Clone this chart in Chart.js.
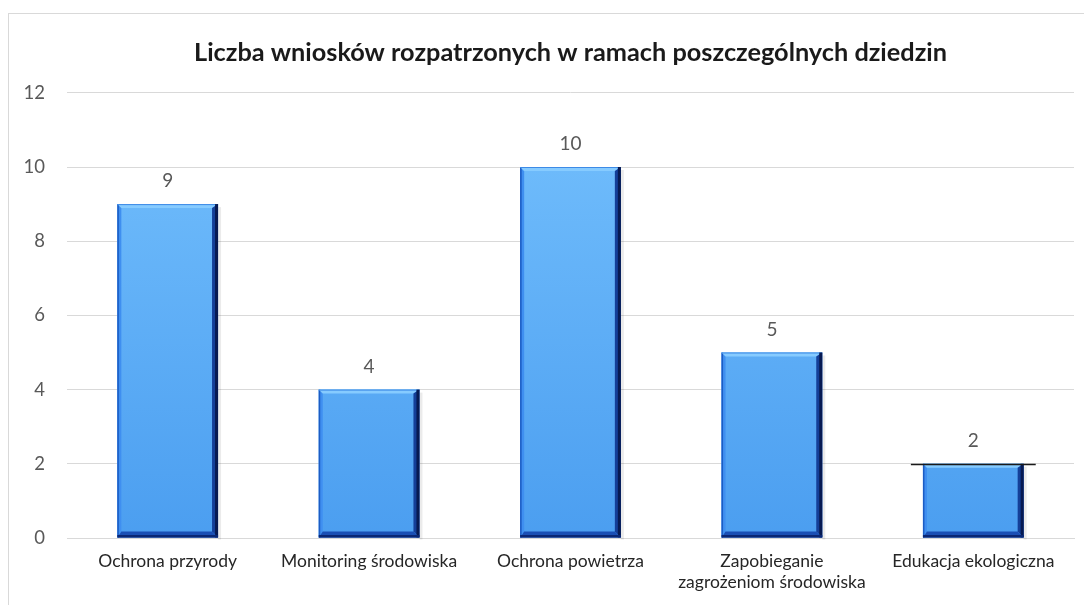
<!DOCTYPE html>
<html>
<head>
<meta charset="utf-8">
<script src="https://cdn.jsdelivr.net/npm/chart.js@4/dist/chart.umd.min.js"></script>
<style>
  html, body { margin: 0; padding: 0; background: #ffffff; }
  #wrap { position: relative; width: 1084px; height: 605px; overflow: hidden; }
  #frame { position: absolute; left: 8px; top: 13px; width: 1200px; height: 700px; border: 1px solid #d9d9d9; box-sizing: border-box; }
  #c { position: absolute; left: 0; top: 0; }
</style>
</head>
<body>
<div id="wrap">
  <div id="frame"></div>
  <canvas id="c" width="1084" height="605"></canvas>
</div>
<script>
const titleText = "Liczba wniosków rozpatrzonych w ramach poszczególnych dziedzin";
const categories = [
  "Ochrona przyrody",
  "Monitoring środowiska",
  "Ochrona powietrza",
  ["Zapobieganie", "zagrożeniom środowiska"],
  "Edukacja ekologiczna"
];
const values = [9, 4, 10, 5, 2];
const yTicks = [0, 2, 4, 6, 8, 10, 12];
const markerLine = { index: 4, value: 2 };

const FONT = "Lato, 'Open Sans', sans-serif";

const bevelPlugin = {
  id: 'bevel',
  afterDatasetsDraw(chart) {
    const ctx = chart.ctx;
    const meta = chart.getDatasetMeta(0);
    ctx.save();
    meta.data.forEach((bar, i) => {
      const left = bar.x - bar.width / 2;
      const right = bar.x + bar.width / 2;
      const top = bar.y;
      const bottom = bar.base;
      const b = 6;
      // soft shadow on right and bottom
      ctx.fillStyle = 'rgba(0,0,0,0.08)';
      ctx.fillRect(right, top + 3, 3, bottom - top - 1);
      // left bevel
      ctx.beginPath();
      ctx.moveTo(left, top);
      ctx.lineTo(left + 4, top + 4);
      ctx.lineTo(left + 4, bottom - b);
      ctx.lineTo(left, bottom);
      ctx.closePath();
      ctx.fillStyle = '#3f8ff0';
      ctx.fill();
      ctx.fillStyle = '#1c5cc4';
      ctx.fillRect(left, top, 1.5, bottom - top);
      // top bevel
      ctx.beginPath();
      ctx.moveTo(left, top);
      ctx.lineTo(right, top);
      ctx.lineTo(right - b, top + 4);
      ctx.lineTo(left + 4, top + 4);
      ctx.closePath();
      ctx.fillStyle = '#86cbff';
      ctx.fill();
      ctx.fillStyle = '#3d8ae6';
      ctx.fillRect(left, top, right - left, 1);
      // right bevel
      ctx.beginPath();
      ctx.moveTo(right - b, top + 4);
      ctx.lineTo(right, top);
      ctx.lineTo(right, bottom);
      ctx.lineTo(right - b, bottom - b);
      ctx.closePath();
      ctx.fillStyle = '#143f98';
      ctx.fill();
      ctx.fillStyle = '#071a52';
      ctx.fillRect(right - 3, top, 3, bottom - top);
      // bottom bevel
      ctx.beginPath();
      ctx.moveTo(left, bottom);
      ctx.lineTo(right, bottom);
      ctx.lineTo(right - b, bottom - b);
      ctx.lineTo(left + 4, bottom - b);
      ctx.closePath();
      ctx.fillStyle = '#1a4fb5';
      ctx.fill();
      ctx.fillStyle = '#0a2774';
      ctx.fillRect(left, bottom - 2.5, right - left, 2.5);
      // value label
      ctx.fillStyle = '#595959';
      ctx.font = '19px ' + FONT;
      ctx.textAlign = 'center';
      ctx.textBaseline = 'middle';
      ctx.fillText(String(values[i]), bar.x, top - 23);
    });
    // marker line on last category
    const xs = chart.scales.x, ys = chart.scales.y;
    const cx = xs.getPixelForValue(markerLine.index);
    const yv = Math.round(ys.getPixelForValue(markerLine.value)) + 0.5;
    const half = (xs.getPixelForValue(1) - xs.getPixelForValue(0)) * 0.31;
    ctx.beginPath();
    ctx.moveTo(cx - half, yv);
    ctx.lineTo(cx + half, yv);
    ctx.strokeStyle = '#1a1a1a';
    ctx.lineWidth = 1.5;
    ctx.stroke();
    ctx.restore();
  }
};

// Title centred over the plot area (as in the reference)
const centredTitle = {
  id: 'centredTitle',
  afterDraw(chart) {
    const ctx = chart.ctx;
    const ca = chart.chartArea;
    ctx.save();
    ctx.fillStyle = '#1a1a1a';
    ctx.font = 'bold 25.3px ' + FONT;
    ctx.textAlign = 'center';
    ctx.textBaseline = 'middle';
    ctx.fillText(titleText, (ca.left + ca.right) / 2, 53);
    ctx.restore();
  }
};

new Chart(document.getElementById('c'), {
  type: 'bar',
  data: {
    labels: categories,
    datasets: [{
      data: values,
      backgroundColor: (ctx) => {
        const ca = ctx.chart.chartArea;
        if (!ca) return '#5aaef5';
        const g = ctx.chart.ctx.createLinearGradient(0, ca.top, 0, ca.bottom);
        g.addColorStop(0, '#74c0fd');
        g.addColorStop(1, '#4b9ef0');
        return g;
      },
      borderWidth: 0,
      barPercentage: 0.5,
      categoryPercentage: 1.0
    }]
  },
  options: {
    responsive: false,
    animation: false,
    layout: { padding: { left: 0, right: 10, top: 0, bottom: 0 } },
    plugins: {
      legend: { display: false },
      tooltip: { enabled: false },
      title: {
        display: true,
        text: titleText,
        color: 'rgba(0,0,0,0)',
        font: { family: FONT, size: 24, weight: 'bold', lineHeight: 1.2 },
        padding: { top: 39, bottom: 25 }
      }
    },
    scales: {
      x: {
        afterFit: (axis) => { axis.height = 67; },
        grid: { display: false, drawTicks: false },
        border: { display: true, color: '#d9d9d9' },
        ticks: {
          color: '#262626',
          font: { family: FONT, size: 17.5, lineHeight: 1.2 },
          padding: 13,
          maxRotation: 0,
          autoSkip: false
        }
      },
      y: {
        min: 0,
        max: 12,
        afterFit: (axis) => { axis.width = 67; },
        afterBuildTicks: (axis) => { axis.ticks = yTicks.map(v => ({ value: v })); },
        grid: { color: '#d9d9d9', drawTicks: false },
        border: { display: false },
        ticks: {
          color: '#595959',
          font: { family: FONT, size: 18.5 },
          padding: 22
        }
      }
    }
  },
  plugins: [bevelPlugin, centredTitle]
});
</script>
</body>
</html>
